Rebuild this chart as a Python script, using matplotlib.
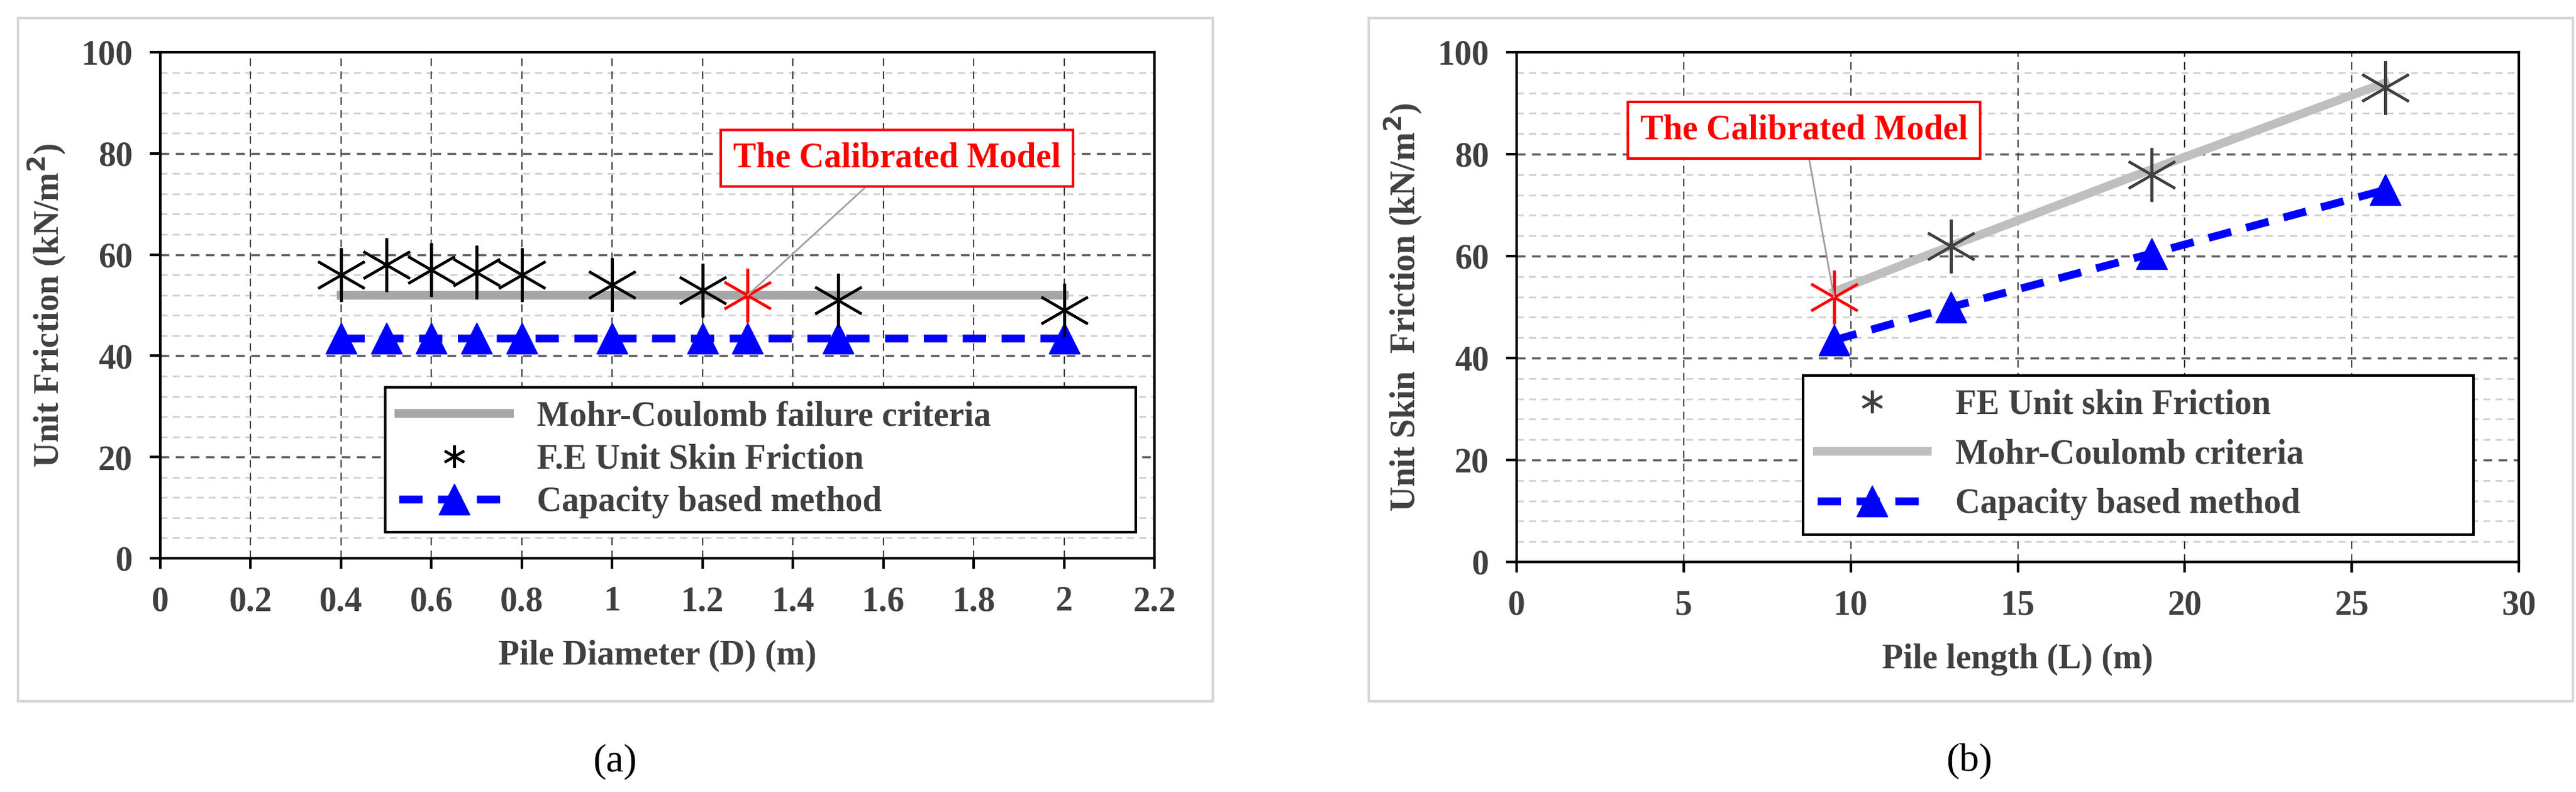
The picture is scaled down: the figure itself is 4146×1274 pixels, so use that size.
import matplotlib
matplotlib.use("Agg")
import matplotlib.pyplot as plt
from matplotlib.patches import Rectangle
from matplotlib.lines import Line2D

D = [0.4, 0.5, 0.6, 0.7, 0.8, 1.0, 1.2, 1.5, 2.0]
fe_a = [56, 58, 57, 56.5, 56, 54, 53, 51, 49]
cal_a = (1.3, 52)
mc_a_x = [0.4, 2.0]
mc_a = [52, 52]
cap_a_x = [0.4, 0.5, 0.6, 0.7, 0.8, 1.0, 1.2, 1.3, 1.5, 2.0]
cap_a = [43.5] * 10

L = [13, 19, 26]
fe_b = [62, 76, 93]
cal_b = (9.5, 52)
mc_b_x = [9.5, 13, 19, 26]
mc_b = [53, 62, 77, 94]
cap_b_x = [9.5, 13, 19, 26]
cap_b = [43.5, 50, 60.5, 73]

plt.rcParams['font.family'] = ['Liberation Serif']
plt.rcParams['font.weight'] = 'bold'
plt.rcParams['axes.labelweight'] = 'bold'
W, H = 4146, 1274
fig = plt.figure(figsize=(W/100, H/100), dpi=100)
GRAY = '#404040'
FS = 40
MS = 62

def px(x0, y0, x1, y1):
    return [x0/W, 1-y1/H, (x1-x0)/W, (y1-y0)/H]

def setup(ax, xmax, xlabel, ylabel, xticks, xticklabels):
    ax.set_xlim(0, xmax); ax.set_ylim(0, 100)
    for v in range(4, 100, 4):
        if v % 20:
            ax.axhline(v, color='#d0d0d0', ls=(0, (4, 3)), lw=2, zorder=0)
    for v in range(20, 100, 20):
        ax.axhline(v, color='#606060', ls=(0, (4, 3)), lw=2.5, zorder=0)
    for v in xticks[1:-1]:
        ax.axvline(v, color='#404040', ls=(0, (6, 4)), lw=1.5, zorder=0)
    ax.set_xticks(xticks); ax.set_xticklabels(xticklabels)
    ax.set_yticks(range(0, 101, 20))
    ax.tick_params(labelsize=FS, colors='black', labelcolor=GRAY, length=12, width=3, pad=20)
    for s in ax.spines.values():
        s.set_linewidth(3)
    ax.set_xlabel(xlabel, fontsize=FS, color=GRAY, labelpad=25, fontweight='bold')
    ax.set_ylabel(ylabel, fontsize=FS, color=GRAY, labelpad=15, fontweight='bold')

def frame(x0, y0, x1, y1):
    fig.patches.append(Rectangle((x0/W, 1-y1/H), (x1-x0)/W, (y1-y0)/H,
                                 transform=fig.transFigure, fill=False, ec='#d8d8d8', lw=3))

frame(29, 29, 1952, 1128)
frame(2203, 29, 4141, 1128)

# Panel a
ax = fig.add_axes(px(258, 84, 1858, 898))
setup(ax, 2.2, 'Pile Diameter (D) (m)', 'Unit Friction (kN/m$^\\mathbf{2}$)',
      [0, 0.2, 0.4, 0.6, 0.8, 1.0, 1.2, 1.4, 1.6, 1.8, 2.0, 2.2],
      ['0', '0.2', '0.4', '0.6', '0.8', '1', '1.2', '1.4', '1.6', '1.8', '2', '2.2'])
ax.plot(mc_a_x, mc_a, color='#a6a6a6', lw=10, zorder=2)
ax.plot(D, fe_a, ls='none', marker=(6, 2, 0), ms=MS, mew=3, color='black', zorder=3)
ax.plot(*cal_a, ls='none', marker=(6, 2, 0), ms=MS, mew=3, color='red', zorder=3)
ax.plot(cap_a_x, cap_a, color='blue', lw=9, ls=(0, (3, 2)), marker='^', ms=36, zorder=2)
ax.annotate('The Calibrated Model', xy=cal_a, xytext=(1.63, 79), fontsize=FS, color='red',
            ha='center', va='center', fontweight='bold',
            bbox=dict(boxstyle='square,pad=0.35', fc='white', ec='red', lw=3),
            arrowprops=dict(arrowstyle='-', color='#a0a0a0', lw=2, shrinkA=0, shrinkB=0))
h = [Line2D([], [], color='#a6a6a6', lw=10),
     Line2D([], [], ls='none', marker=(6, 2, 0), ms=26, mew=3, color='black'),
     Line2D([], [], color='blue', lw=9, ls=(0, (3, 2)), marker='^', ms=36)]
leg = ax.legend(h, ['Mohr-Coulomb failure criteria', 'F.E Unit Skin Friction', 'Capacity based method'],
                loc='lower left', bbox_to_anchor=(0.226, 0.051, 0.755, 0.295), mode='expand',
                fontsize=FS, frameon=True, fancybox=False, edgecolor='black', framealpha=1,
                handlelength=3.2, borderaxespad=0, labelspacing=0.3)
leg.get_frame().set_linewidth(3)
for t in leg.get_texts(): t.set_color(GRAY)

# Panel b
ax = fig.add_axes(px(2441, 84, 4054, 904))
setup(ax, 30, 'Pile length (L) (m)', 'Unit Skin  Friction (kN/m$^\\mathbf{2}$)',
      [0, 5, 10, 15, 20, 25, 30], ['0', '5', '10', '15', '20', '25', '30'])
ax.plot(mc_b_x, mc_b, color='#bfbfbf', lw=10, zorder=2)
ax.plot(L, fe_b, ls='none', marker=(6, 2, 0), ms=MS, mew=3, color='#404040', zorder=3)
ax.plot(*cal_b, ls='none', marker=(6, 2, 0), ms=MS, mew=3, color='red', zorder=3)
ax.plot(cap_b_x, cap_b, color='blue', lw=9, ls=(0, (3, 2)), marker='^', ms=36, zorder=2)
ax.annotate('The Calibrated Model', xy=cal_b, xytext=(8.6, 84.7), fontsize=FS, color='red',
            ha='center', va='center', fontweight='bold',
            bbox=dict(boxstyle='square,pad=0.35', fc='white', ec='red', lw=3),
            arrowprops=dict(arrowstyle='-', color='#a0a0a0', lw=2, shrinkA=0, shrinkB=0))
h = [Line2D([], [], ls='none', marker=(6, 2, 0), ms=26, mew=3, color='#404040'),
     Line2D([], [], color='#bfbfbf', lw=10),
     Line2D([], [], color='blue', lw=9, ls=(0, (3, 2)), marker='^', ms=36)]
leg = ax.legend(h, ['FE Unit skin Friction', 'Mohr-Coulomb criteria', 'Capacity based method'],
                loc='lower left', bbox_to_anchor=(0.286, 0.054, 0.669, 0.34), mode='expand',
                fontsize=FS, frameon=True, fancybox=False, edgecolor='black', framealpha=1,
                handlelength=3.2, borderaxespad=0, labelspacing=0.5)
leg.get_frame().set_linewidth(3)
for t in leg.get_texts(): t.set_color(GRAY)

fig.text(990/W, 1-1225/H, '(a)', fontsize=46, weight='normal', ha='center', va='center')
fig.text(3169/W, 1-1225/H, '(b)', fontsize=46, weight='normal', ha='center', va='center')
fig.savefig('out.png', dpi=100)
